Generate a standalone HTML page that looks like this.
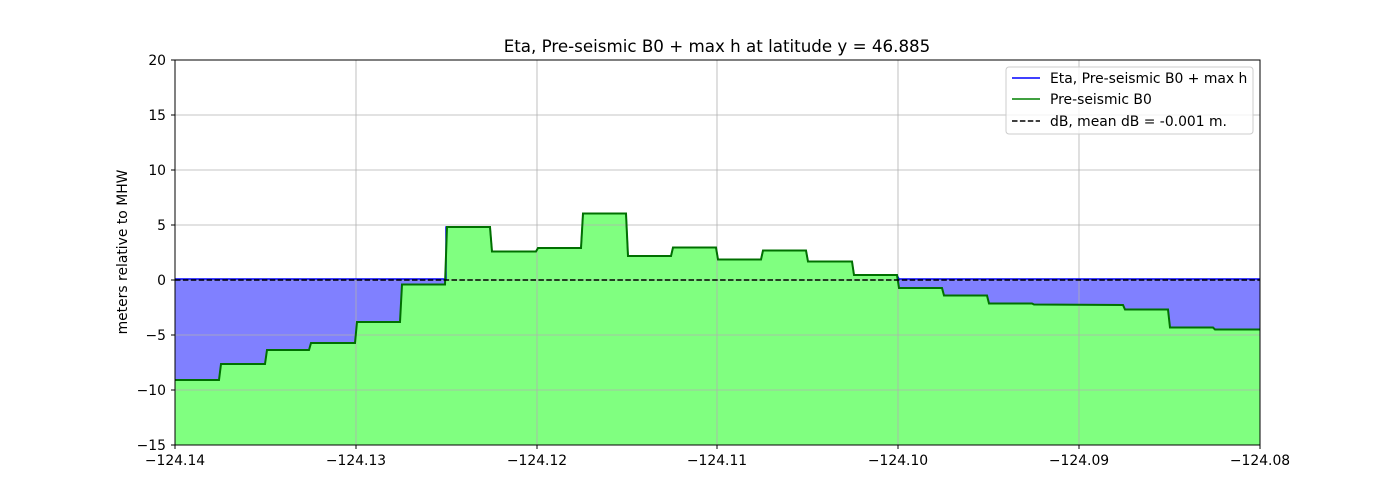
<!DOCTYPE html>
<html><head><meta charset="utf-8"><style>body{margin:0;background:#fff}svg{display:block;font-family:"DejaVu Sans","Liberation Sans",sans-serif}</style></head><body>
<svg width="1400" height="500" xmlns="http://www.w3.org/2000/svg">
<rect width="1400" height="500" fill="#fff"/>
<rect x="175" y="279" width="1085" height="166" fill="#8080ff"/>
<polygon fill="#80ff80" points="175,445 175,380 219,380 221,364 265,364 267,350 309,350 311,343 355,343 357,322 400,322 402,284.5 445,284.5 447,227 490,227 492,251.5 536,251.5 538,248 581,248 583,213.5 626,213.5 628,256 671,256 673,247.5 716,247.5 718,259.5 761,259.5 763,250.5 806,250.5 808,261.5 852,261.5 854,275 897,275 899,288 942,288 944,295.5 987,295.5 989,303.5 1032,303.5 1034,304.5 1123,305 1125,309.5 1168,309.5 1170,327.5 1213,327.5 1215,329.5 1260,329.5 1260,445"/>
<g stroke="#b0b0b0" stroke-width="0.8">
<line x1="356" y1="60" x2="356" y2="445"/><line x1="537" y1="60" x2="537" y2="445"/><line x1="717" y1="60" x2="717" y2="445"/><line x1="898" y1="60" x2="898" y2="445"/><line x1="1079" y1="60" x2="1079" y2="445"/>
<line x1="175" y1="115" x2="1260" y2="115"/><line x1="175" y1="170" x2="1260" y2="170"/><line x1="175" y1="225" x2="1260" y2="225"/><line x1="175" y1="280" x2="1260" y2="280"/><line x1="175" y1="335" x2="1260" y2="335"/><line x1="175" y1="390" x2="1260" y2="390"/>
</g>
<polyline fill="none" stroke="#0000ff" stroke-width="1.5" points="175,279 446,279 446,227 490,227 492,251.5 536,251.5 538,248 581,248 583,213.5 626,213.5 628,256 671,256 673,247.5 716,247.5 718,259.5 761,259.5 763,250.5 806,250.5 808,261.5 852,261.5 854,275 897,275 899,279 1260,279"/>
<polyline fill="none" stroke="#007000" stroke-width="2" points="175,380 219,380 221,364 265,364 267,350 309,350 311,343 355,343 357,322 400,322 402,284.5 445,284.5 447,227 490,227 492,251.5 536,251.5 538,248 581,248 583,213.5 626,213.5 628,256 671,256 673,247.5 716,247.5 718,259.5 761,259.5 763,250.5 806,250.5 808,261.5 852,261.5 854,275 897,275 899,288 942,288 944,295.5 987,295.5 989,303.5 1032,303.5 1034,304.5 1123,305 1125,309.5 1168,309.5 1170,327.5 1213,327.5 1215,329.5 1260,329.5"/>
<line x1="175" y1="280" x2="1260" y2="280" stroke="#000" stroke-width="1.5" stroke-dasharray="5.5,2.4"/>
<rect x="175" y="60" width="1085" height="385" fill="none" stroke="#000" stroke-width="1"/>
<g stroke="#000"><line x1="175" y1="445" x2="175" y2="449"/><line x1="356" y1="445" x2="356" y2="449"/><line x1="537" y1="445" x2="537" y2="449"/><line x1="717" y1="445" x2="717" y2="449"/><line x1="898" y1="445" x2="898" y2="449"/><line x1="1079" y1="445" x2="1079" y2="449"/><line x1="1260" y1="445" x2="1260" y2="449"/>
<line x1="171" y1="60" x2="175" y2="60"/><line x1="171" y1="115" x2="175" y2="115"/><line x1="171" y1="170" x2="175" y2="170"/><line x1="171" y1="225" x2="175" y2="225"/><line x1="171" y1="280" x2="175" y2="280"/><line x1="171" y1="335" x2="175" y2="335"/><line x1="171" y1="390" x2="175" y2="390"/><line x1="171" y1="445" x2="175" y2="445"/></g>
<g font-size="13.9" text-anchor="middle" fill="#000">
<text x="175" y="465">−124.14</text><text x="356" y="465">−124.13</text><text x="537" y="465">−124.12</text><text x="717" y="465">−124.11</text><text x="898" y="465">−124.10</text><text x="1079" y="465">−124.09</text><text x="1260" y="465">−124.08</text>
</g>
<g font-size="13.9" text-anchor="end" fill="#000">
<text x="166" y="65">20</text><text x="166" y="120">15</text><text x="166" y="175">10</text><text x="166" y="230">5</text><text x="166" y="285">0</text><text x="166" y="340">−5</text><text x="166" y="395">−10</text><text x="166" y="450">−15</text>
</g>
<text x="127" y="252" font-size="13.9" text-anchor="middle" transform="rotate(-90 127 252)">meters relative to MHW</text>
<text x="717" y="52" font-size="16.7" text-anchor="middle">Eta, Pre-seismic B0 + max h at latitude y = 46.885</text>
<rect x="1006" y="67" width="247" height="67" rx="3" fill="#fff" fill-opacity="0.8" stroke="#ccc"/>
<line x1="1012" y1="78" x2="1040" y2="78" stroke="#0000ff" stroke-width="1.5"/>
<line x1="1012" y1="99" x2="1040" y2="99" stroke="#008000" stroke-width="1.5"/>
<line x1="1012" y1="121" x2="1040" y2="121" stroke="#000" stroke-width="1.5" stroke-dasharray="5.5,2.4"/>
<g font-size="13.9" fill="#000"><text x="1050" y="83">Eta, Pre-seismic B0 + max h</text><text x="1050" y="104">Pre-seismic B0</text><text x="1050" y="126">dB, mean dB = -0.001 m.</text></g>
</svg>
</body></html>
